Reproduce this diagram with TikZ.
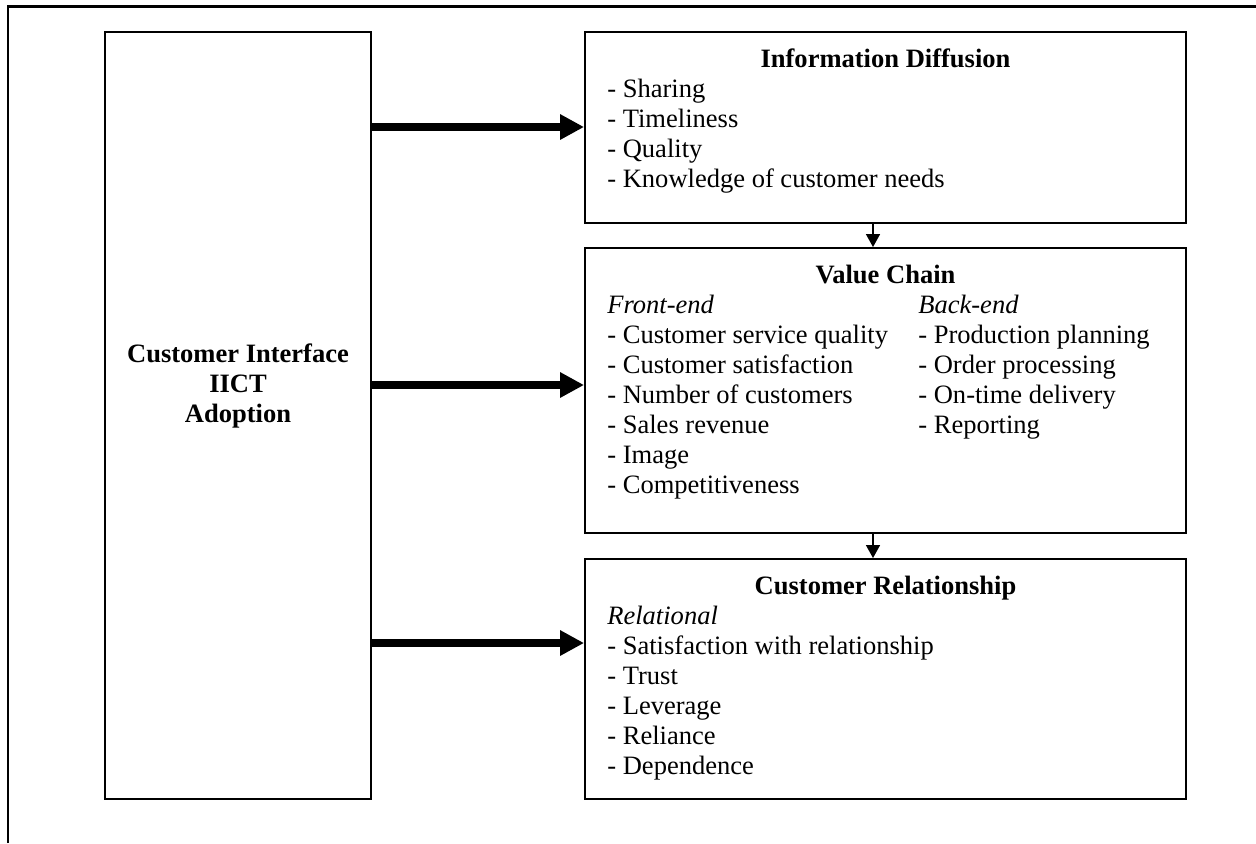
\documentclass[tikz,border=0pt]{standalone}
\usepackage{fontspec}
\setmainfont{Liberation Serif}
\usetikzlibrary{arrows.meta}

\tikzset{
	box/.style={draw, line width=0.04cm, inner sep=0pt},
	txt/.style={anchor=base west, inner sep=0pt, font=\fontsize{15.1}{17}\selectfont},
	ttl/.style={anchor=base, inner sep=0pt, font=\fontsize{15.1}{17}\selectfont\bfseries},
	bigarrow/.style={line width=0.16cm, -{Triangle[length=0.48cm,width=0.48cm]}},
	smallarrow/.style={line width=0.03cm, -{Triangle[length=0.26cm,width=0.28cm]}}
}

\begin{document}
\begin{tikzpicture}[x=0.02cm, y=-0.02cm]

		\useasboundingbox (0,0) rectangle (1256,843);
		\draw[line width=0.06cm] (8,843) -- (8,6) -- (1256,6);

		% boxes
		\node[box, minimum width=5.32cm, minimum height=15.34cm] (adopt) at (238,415.5) {};
		\node[box, minimum width=12.02cm, minimum height=3.82cm] (info) at (885.5,127.5) {};
		\node[box, minimum width=12.02cm, minimum height=5.7cm] (value) at (885.5,390.5) {};
		\node[box, minimum width=12.02cm, minimum height=4.8cm] (rel) at (885.5,679) {};

		% left box
		\node[ttl] (adopt1) at (238,362) {Customer Interface};
		\node[ttl] (adopt2) at (238,392) {IICT};
		\node[ttl] (adopt3) at (238,422) {Adoption};

		% information diffusion
		\node[ttl] (infottl) at (885.5,67) {Information Diffusion};
		\node[txt] (info1) at (607,97) {- Sharing};
		\node[txt] (info2) at (607,127) {- Timeliness};
		\node[txt] (info3) at (607,157) {- Quality};
		\node[txt] (info4) at (607,187) {- Knowledge of customer needs};

		% value chain
		\node[ttl] (valuettl) at (885.5,283) {Value Chain};
		\node[txt] (front) at (607,313) {\itshape Front-end};
		\node[txt] (front1) at (607,343) {- Customer service quality};
		\node[txt] (front2) at (607,373) {- Customer satisfaction};
		\node[txt] (front3) at (607,403) {- Number of customers};
		\node[txt] (front4) at (607,433) {- Sales revenue};
		\node[txt] (front5) at (607,463) {- Image};
		\node[txt] (front6) at (607,493) {- Competitiveness};
		\node[txt] (back) at (918,313) {\itshape Back-end};
		\node[txt] (back1) at (918,343) {- Production planning};
		\node[txt] (back2) at (918,373) {- Order processing};
		\node[txt] (back3) at (918,403) {- On-time delivery};
		\node[txt] (back4) at (918,433) {- Reporting};

		% customer relationship
		\node[ttl] (relttl) at (885.5,594) {Customer Relationship};
		\node[txt] (relat) at (607,624) {\itshape Relational};
		\node[txt] (rel1) at (607,654) {- Satisfaction with relationship};
		\node[txt] (rel2) at (607,684) {- Trust};
		\node[txt] (rel3) at (607,714) {- Leverage};
		\node[txt] (rel4) at (607,744) {- Reliance};
		\node[txt] (rel5) at (607,774) {- Dependence};

		% arrows
		\coordinate (a1) at (0,127);
		\coordinate (a2) at (0,385);
		\coordinate (a3) at (0,643);
		\draw[bigarrow] (adopt.east |- a1) -- (info.west |- a1);
		\draw[bigarrow] (adopt.east |- a2) -- (value.west |- a2);
		\draw[bigarrow] (adopt.east |- a3) -- (rel.west |- a3);

		\draw[smallarrow] ([xshift=-0.25cm]info.south) -- ([xshift=-0.25cm]value.north);
		\draw[smallarrow] ([xshift=-0.25cm]value.south) -- ([xshift=-0.25cm]rel.north);

	\end{tikzpicture}
\end{document}
